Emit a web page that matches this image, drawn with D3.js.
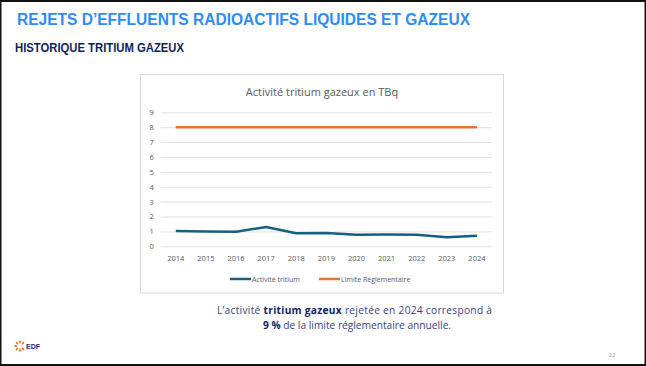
<!DOCTYPE html>
<html>
<head>
<meta charset="utf-8">
<script src="https://cdn.jsdelivr.net/npm/d3@7"></script>
<style>
  body { margin: 0; background: #fff; }
  svg { display: block; }
</style>
</head>
<body>
<div id="slide"></div>
<script>
// data
var years = ["2014","2015","2016","2017","2018","2019","2020","2021","2022","2023","2024"];
var activite = [1.03, 1.0, 0.97, 1.3, 0.87, 0.9, 0.78, 0.8, 0.78, 0.6, 0.71];
var limite = [8, 8, 8, 8, 8, 8, 8, 8, 8, 8, 8];
var yTicks = [0, 1, 2, 3, 4, 5, 6, 7, 8, 9];
var seriesNames = ["Activité tritium", "Limite Réglementaire"];

var width = 646, height = 366;
var blue = "#156082", orange = "#E97132", grey = "#595959", grid = "#d9d9d9";

var svg = d3.select("#slide").append("svg")
    .attr("width", width)
    .attr("height", height);

svg.append("rect")
    .attr("x", 0).attr("y", 0)
    .attr("width", width).attr("height", height)
    .attr("fill", "#fff");

// slide headings
svg.append("text")
    .attr("x", 17).attr("y", 24.5)
    .attr("font-family", "Liberation Sans, Arial, sans-serif")
    .attr("font-weight", "bold")
    .attr("font-size", 16)
    .attr("fill", "#2f8cf5")
    .attr("textLength", 453)
    .attr("lengthAdjust", "spacingAndGlyphs")
    .text("REJETS D\u2019EFFLUENTS RADIOACTIFS LIQUIDES ET GAZEUX");

svg.append("text")
    .attr("x", 15).attr("y", 52)
    .attr("font-family", "Liberation Sans, Arial, sans-serif")
    .attr("font-weight", "bold")
    .attr("font-size", 12.5)
    .attr("fill", "#0f1f5c")
    .attr("textLength", 169)
    .attr("lengthAdjust", "spacingAndGlyphs")
    .text("HISTORIQUE TRITIUM GAZEUX");

// chart frame
svg.append("rect")
    .attr("x", 140.5).attr("y", 74.5)
    .attr("width", 363).attr("height", 218.5)
    .attr("fill", "#fff")
    .attr("stroke", grid)
    .attr("stroke-width", 1);

svg.append("text")
    .attr("x", 322).attr("y", 96)
    .attr("text-anchor", "middle")
    .attr("font-family", "Open Sans, sans-serif")
    .attr("font-size", 11)
    .attr("fill", grey)
    .text("Activité tritium gazeux en TBq");

var x = d3.scaleBand().domain(years).range([160.7, 492]);
var y = d3.scaleLinear().domain([0, 9]).range([246.3, 112.3]);

var yAxis = svg.append("g")
    .attr("transform", "translate(160.7,0)")
    .call(d3.axisLeft(y).tickValues(yTicks).tickSize(-(492 - 160.7)).tickPadding(7));
yAxis.select(".domain").remove();
yAxis.selectAll(".tick line").attr("stroke", grid).attr("stroke-width", 0.8);
yAxis.selectAll(".tick text")
    .attr("fill", grey)
    .attr("font-family", "Open Sans, sans-serif")
    .attr("font-size", 7.5);

var xAxis = svg.append("g")
    .attr("transform", "translate(0,246.3)")
    .call(d3.axisBottom(x).tickSize(0).tickPadding(9));
xAxis.select(".domain").remove();
xAxis.selectAll(".tick text")
    .attr("fill", grey)
    .attr("font-family", "Open Sans, sans-serif")
    .attr("font-size", 7.5);

var line = d3.line()
    .x(function(d, i) { return x(years[i]) + x.bandwidth() / 2; })
    .y(function(d) { return y(d); });

svg.append("path")
    .datum(limite)
    .attr("d", line)
    .attr("fill", "none")
    .attr("stroke", orange)
    .attr("stroke-width", 2.5);

svg.append("path")
    .datum(activite)
    .attr("d", line)
    .attr("fill", "none")
    .attr("stroke", blue)
    .attr("stroke-width", 2.5)
    .attr("stroke-linejoin", "round");

// legend
var legendX = [230, 319];
var legendColors = [blue, orange];
var legend = svg.append("g");
seriesNames.forEach(function(name, i) {
    legend.append("line")
        .attr("x1", legendX[i]).attr("x2", legendX[i] + 21)
        .attr("y1", 279).attr("y2", 279)
        .attr("stroke", legendColors[i])
        .attr("stroke-width", 2.5);
    legend.append("text")
        .attr("x", legendX[i] + 22).attr("y", 281.5)
        .attr("font-family", "Open Sans, sans-serif")
        .attr("font-size", 7)
        .attr("fill", grey)
        .text(name);
});

// caption
var cap1 = svg.append("text")
    .attr("x", 217).attr("y", 314)
    .attr("font-family", "Open Sans, sans-serif")
    .attr("font-size", 10.2)
    .attr("fill", "#34437f")
    .attr("textLength", 275)
    .attr("lengthAdjust", "spacing");
cap1.append("tspan").text("L\u2019activité ");
cap1.append("tspan").attr("font-weight", "bold").attr("fill", "#0f1f5c").text("tritium gazeux");
cap1.append("tspan").text(" rejetée en 2024 correspond à");

var cap2 = svg.append("text")
    .attr("x", 357).attr("y", 328.5)
    .attr("text-anchor", "middle")
    .attr("font-family", "Open Sans, sans-serif")
    .attr("font-size", 10.2)
    .attr("fill", "#34437f");
cap2.append("tspan").attr("font-weight", "bold").attr("fill", "#0f1f5c").text("9 %");
cap2.append("tspan").text(" de la limite réglementaire annuelle.");

// EDF logo
var logo = svg.append("g").attr("transform", "translate(20,346)");
d3.range(8).forEach(function(k) {
    var a = -Math.PI / 2 + k * Math.PI / 4;
    if (k === 2) return;
    logo.append("ellipse")
        .attr("cx", Math.cos(a) * 4.2).attr("cy", Math.sin(a) * 4.2)
        .attr("rx", 1.6).attr("ry", 0.9)
        .attr("transform", "rotate(" + (a * 180 / Math.PI) + "," + (Math.cos(a) * 4.2) + "," + (Math.sin(a) * 4.2) + ")")
        .attr("fill", "#f26b1d");
});
svg.append("text")
    .attr("x", 26).attr("y", 349)
    .attr("font-family", "Liberation Sans, Arial, sans-serif")
    .attr("font-weight", "bold")
    .attr("font-size", 7)
    .attr("fill", "#1a2a78")
    .text("EDF");

svg.append("text")
    .attr("x", 612).attr("y", 357)
    .attr("text-anchor", "middle")
    .attr("font-family", "Open Sans, sans-serif")
    .attr("font-size", 6)
    .attr("fill", "#999")
    .text("22");

// slide frame
svg.append("rect")
    .attr("x", 0.5).attr("y", 1)
    .attr("width", width - 1).attr("height", height - 2)
    .attr("fill", "none")
    .attr("stroke", "#111")
    .attr("stroke-width", 2);
</script>
</body>
</html>
